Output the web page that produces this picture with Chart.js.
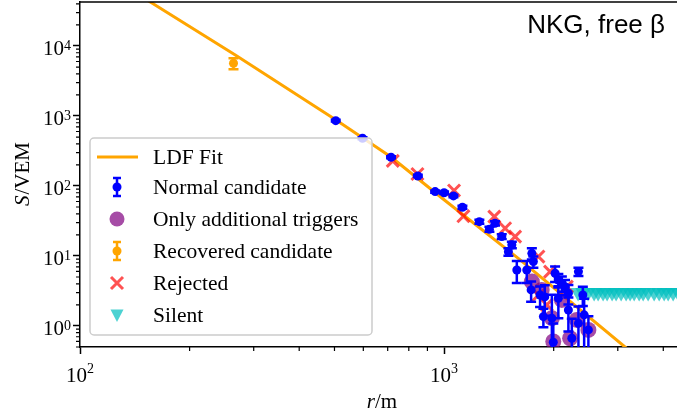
<!DOCTYPE html>
<html>
<head>
<meta charset="utf-8">
<script src="https://cdn.jsdelivr.net/npm/chart.js@4"></script>
<style>
  html, body { margin: 0; padding: 0; background: #fff; overflow: hidden; }
  #wrap { width: 690px; height: 414px; position: relative; }
</style>
</head>
<body>
<div id="wrap"><canvas id="ldfChart"></canvas></div>
<script>
// LDF fit curve
const fitR = [140, 156, 267, 505, 715, 1000, 1618, 3140, 3400];
const fitS = [60000, 42500, 7440, 877, 259, 63.5, 8.77, 0.5, 0.36];

// normal candidates
const normalR = [504, 597, 715, 847, 945, 1000, 1061, 1123, 1250, 1332, 1380, 1440, 1502, 1535, 1584, 1687,
  1742, 1759, 1734, 1835, 1874, 1890, 1977, 1995, 2018, 2060, 2106, 2149, 2195, 2060, 2195, 2243, 2339, 2339,
  2405, 2425, 2491];
const normalS = [857, 480, 257, 139, 83, 80, 72, 49.6, 30.9, 24.1, 29.3, 18.9, 11.5, 14.4, 6.3, 6.3,
  10.9, 8.3, 3.27, 2.77, 1.36, 2.6, 1.29, 0.585, 5.66, 4.54, 4.07, 3.64, 2.93, 2.49, 1.69, 0.667, 5.97, 1.09,
  2.77, 1.44, 0.877];
const normalErr = [25, 15, 8, 5, 3, 3, 3, 2.5, 2, 2, 2, 1.5, 1.4, 1.5, 2.2, 2.2,
  2, 1.5, 1.05, 0.9, 0.4, 1.2, 1.5, 0.5, 1.4, 1.0, 1.0, 0.9, 0.9, 1.2, 0.86, 0.6, 0.8, 0.8,
  0.85, 1.0, 0.5];

// only additional triggers
const extraR = [1742, 1854, 2106, 1977, 1995, 2219, 2315, 2491];
const extraS = [4.3, 3.27, 2.35, 1.29, 0.6, 0.667, 1.22, 0.877];

// recovered candidate
const recoveredR = [264];
const recoveredS = [5660];
const recoveredErr = [1000];

// rejected
const rejectedR = [723, 845, 1065, 1130, 1374, 1471, 1567, 1816, 1955, 1816, 2173, 1915];
const rejectedS = [228, 148, 86, 37, 36.4, 24.9, 18.9, 9.8, 5.97, 2.77, 3.64, 2.0];

// silent stations
const silentR = [2334, 2409, 2486, 2583, 2649, 2734, 2804, 2894, 2968, 3064, 3162, 3243, 3327, 3434, 3522,
  3634, 3775, 3897, 4022, 4125, 4257, 4394, 4536];
const silentS = [3, 3, 3, 3, 3, 3, 3, 3, 3, 3, 3, 3, 3, 3, 3, 3, 3, 3, 3, 3, 3, 3, 3];

const xTicks = [100, 1000];
const xTickExp = ["2", "3"];
const yTicks = [1, 10, 100, 1000, 10000];
const yTickExp = ["0", "1", "2", "3", "4"];

const SERIF = "'Liberation Serif', 'DejaVu Serif', serif";
const BLUE = "#0000ff", ORANGE = "#ffa500";
const PURPLE = "rgba(128,0,128,0.7)", RED = "rgba(255,0,0,0.68)", CYAN = "rgba(0,191,191,0.7)";

const pts = (xs, ys) => xs.map((x, i) => ({ x, y: ys[i] }));

const X_MIN = 100, X_MAX = 4560, Y_MIN = 0.5, Y_MAX = 42500;

function drawErrBars(ctx, chart, xs, ys, errs, color) {
  const xs_ = chart.scales.x, ys_ = chart.scales.y, a = chart.chartArea;
  ctx.save();
  ctx.beginPath();
  ctx.rect(a.left, a.top, a.right - a.left, a.bottom - a.top);
  ctx.clip();
  ctx.strokeStyle = color;
  ctx.lineWidth = 2.5;
  xs.forEach((r, i) => {
    const px = xs_.getPixelForValue(r);
    const top = ys_.getPixelForValue(ys[i] + errs[i]);
    const bot = ys_.getPixelForValue(Math.max(ys[i] - errs[i], 0.05));
    ctx.beginPath();
    ctx.moveTo(px, top); ctx.lineTo(px, bot);
    ctx.moveTo(px - 5, top); ctx.lineTo(px + 5, top);
    ctx.moveTo(px - 5, bot); ctx.lineTo(px + 5, bot);
    ctx.stroke();
  });
  ctx.restore();
}

const decor = {
  id: "decor",
  beforeDatasetDraw(chart, args) {
    const ds = chart.data.datasets[args.index];
    if (ds.label === "Normal candidate") drawErrBars(chart.ctx, chart, normalR, normalS, normalErr, BLUE);
    if (ds.label === "Recovered candidate") drawErrBars(chart.ctx, chart, recoveredR, recoveredS, recoveredErr, ORANGE);
  },
  afterDraw(chart) {
    const ctx = chart.ctx, a = chart.chartArea;
    const sx = chart.scales.x, sy = chart.scales.y;
    ctx.save();
    // minor ticks
    ctx.strokeStyle = "#000";
    ctx.lineWidth = 1.2;
    ctx.beginPath();
    for (let d = -1; d <= 4; d++) {
      for (let k = 2; k <= 9; k++) {
        const v = k * Math.pow(10, d);
        if (v < Y_MIN || v > Y_MAX) continue;
        const py = sy.getPixelForValue(v);
        ctx.moveTo(a.left - 4, py); ctx.lineTo(a.left, py);
      }
    }
    for (let d = 2; d <= 3; d++) {
      for (let k = 2; k <= 9; k++) {
        const v = k * Math.pow(10, d);
        if (v > X_MAX) continue;
        const px = sx.getPixelForValue(v);
        ctx.moveTo(px, a.bottom); ctx.lineTo(px, a.bottom + 4);
      }
    }
    ctx.stroke();
    // top spine
    ctx.lineWidth = 1.5;
    ctx.beginPath();
    ctx.moveTo(a.left, a.top); ctx.lineTo(a.right, a.top);
    ctx.stroke();

    // tick labels 10^n
    ctx.fillStyle = "#000";
    ctx.textBaseline = "alphabetic";
    const big = "21px " + SERIF, small = "14px " + SERIF;
    ctx.font = big;
    const w10 = ctx.measureText("10").width;
    yTicks.forEach((v, i) => {
      const py = sy.getPixelForValue(v);
      ctx.font = small;
      const we = ctx.measureText(yTickExp[i]).width;
      ctx.fillText(yTickExp[i], 71 - we, py + 4);
      ctx.font = big;
      ctx.fillText("10", 71 - we - w10, py + 9);
    });
    xTicks.forEach((v, i) => {
      const px = sx.getPixelForValue(v);
      ctx.font = small;
      const we = ctx.measureText(xTickExp[i]).width;
      const x0 = px - (w10 + we) / 2;
      ctx.fillText(xTickExp[i], x0 + w10, 373);
      ctx.font = big;
      ctx.fillText("10", x0, 382);
    });

    // axis titles
    ctx.font = "italic 21px " + SERIF;
    const wr = ctx.measureText("r").width;
    ctx.font = "21px " + SERIF;
    const wm = ctx.measureText("/m").width;
    let x0 = (a.left + a.right) / 2 - (wr + wm) / 2;
    ctx.font = "italic 21px " + SERIF;
    ctx.fillText("r", x0, 408);
    ctx.font = "21px " + SERIF;
    ctx.fillText("/m", x0 + wr, 408);

    ctx.save();
    ctx.translate(29, (a.top + a.bottom) / 2);
    ctx.rotate(-Math.PI / 2);
    ctx.font = "italic 21px " + SERIF;
    const ws = ctx.measureText("S").width;
    ctx.font = "21px " + SERIF;
    const wv = ctx.measureText("/VEM").width;
    x0 = -(ws + wv) / 2;
    ctx.font = "italic 21px " + SERIF;
    ctx.fillText("S", x0, 0);
    ctx.font = "21px " + SERIF;
    ctx.fillText("/VEM", x0 + ws + 1, 0);
    ctx.restore();

    // annotation
    ctx.font = "26px 'Liberation Sans', Arial, sans-serif";
    ctx.textAlign = "right";
    ctx.fillText("NKG, free β", 665, 33);
    ctx.textAlign = "left";

    // legend
    const lx = 90, ly = 138, lw = 282, lh = 197;
    ctx.beginPath();
    ctx.roundRect(lx, ly, lw, lh, 4);
    ctx.fillStyle = "rgba(255,255,255,0.8)";
    ctx.fill();
    ctx.strokeStyle = "#cccccc";
    ctx.lineWidth = 1.5;
    ctx.stroke();

    const rows = [157, 187, 219, 251, 283, 315];
    const names = ["LDF Fit", "Normal candidate", "Only additional triggers", "Recovered candidate", "Rejected", "Silent"];
    const mx = 117;
    ctx.strokeStyle = ORANGE; ctx.lineWidth = 3;
    ctx.beginPath(); ctx.moveTo(97, rows[0]); ctx.lineTo(138, rows[0]); ctx.stroke();
    [[rows[1], BLUE], [rows[3], ORANGE]].forEach(([y, c]) => {
      ctx.strokeStyle = c; ctx.fillStyle = c; ctx.lineWidth = 2.5;
      ctx.beginPath();
      ctx.moveTo(mx, y - 9); ctx.lineTo(mx, y + 9);
      ctx.moveTo(mx - 4, y - 9); ctx.lineTo(mx + 4, y - 9);
      ctx.moveTo(mx - 4, y + 9); ctx.lineTo(mx + 4, y + 9);
      ctx.stroke();
      ctx.beginPath(); ctx.arc(mx, y, 4.5, 0, Math.PI * 2); ctx.fill();
    });
    ctx.fillStyle = PURPLE;
    ctx.beginPath(); ctx.arc(mx, rows[2], 7.5, 0, Math.PI * 2); ctx.fill();
    ctx.strokeStyle = RED; ctx.lineWidth = 3;
    ctx.beginPath();
    ctx.moveTo(mx - 6, rows[4] - 6); ctx.lineTo(mx + 6, rows[4] + 6);
    ctx.moveTo(mx - 6, rows[4] + 6); ctx.lineTo(mx + 6, rows[4] - 6);
    ctx.stroke();
    ctx.fillStyle = CYAN;
    ctx.beginPath();
    ctx.moveTo(mx - 6.5, rows[5] - 5.5); ctx.lineTo(mx + 6.5, rows[5] - 5.5); ctx.lineTo(mx, rows[5] + 7);
    ctx.closePath(); ctx.fill();

    ctx.fillStyle = "#000";
    ctx.font = "21.5px " + SERIF;
    ctx.textBaseline = "middle";
    names.forEach((n, i) => ctx.fillText(n, 153, rows[i] + 1));
    ctx.restore();
  }
};

new Chart(document.getElementById("ldfChart"), {
  data: {
    datasets: [
      { type: "line", label: "LDF Fit", data: pts(fitR, fitS), borderColor: ORANGE, borderWidth: 3,
        pointRadius: 0, fill: false, tension: 0, order: 6, clip: 0 },
      { type: "scatter", label: "Silent", data: pts(silentR, silentS), backgroundColor: CYAN,
        pointStyle: "triangle", pointRotation: 180, pointRadius: 9, borderWidth: 0, order: 5, clip: 0 },
      { type: "scatter", label: "Rejected", data: pts(rejectedR, rejectedS), borderColor: RED,
        pointStyle: "crossRot", pointRadius: 8.5, borderWidth: 3, order: 4, clip: 0 },
      { type: "scatter", label: "Only additional triggers", data: pts(extraR, extraS), backgroundColor: PURPLE,
        pointRadius: 8, borderWidth: 0, order: 3, clip: 0 },
      { type: "scatter", label: "Recovered candidate", data: pts(recoveredR, recoveredS), backgroundColor: ORANGE,
        pointRadius: 4.5, borderWidth: 0, order: 2, clip: 0 },
      { type: "scatter", label: "Normal candidate", data: pts(normalR, normalS), backgroundColor: BLUE,
        pointRadius: 4.5, borderWidth: 0, order: 1, clip: 0 },
    ],
  },
  options: {
    responsive: true,
    maintainAspectRatio: false,
    animation: false,
    events: [],
    layout: { autoPadding: false, padding: { top: 2, right: 6, bottom: 0, left: 0 } },
    plugins: { legend: { display: false }, tooltip: { enabled: false } },
    scales: {
      x: {
        type: "logarithmic", position: "bottom", min: X_MIN, max: X_MAX,
        afterFit: (s) => { s.height = 67; s.paddingLeft = 0; s.paddingRight = 0; },
        afterBuildTicks: (s) => { s.ticks = xTicks.map((v) => ({ value: v })); },
        ticks: { autoSkip: false, maxRotation: 0, padding: 5, callback: () => "" },
        grid: { display: true, drawOnChartArea: false, drawTicks: true, tickLength: 7, tickWidth: 1.5, tickColor: "#000" },
        border: { display: true, color: "#000", width: 1.5 },
      },
      y: {
        type: "logarithmic", position: "left", min: Y_MIN, max: Y_MAX,
        afterFit: (s) => { s.width = 80; s.paddingTop = 0; s.paddingBottom = 0; },
        afterBuildTicks: (s) => { s.ticks = yTicks.map((v) => ({ value: v })); },
        ticks: { autoSkip: false, padding: 2, callback: () => "" },
        grid: { display: true, drawOnChartArea: false, drawTicks: true, tickLength: 7, tickWidth: 1.5, tickColor: "#000" },
        border: { display: true, color: "#000", width: 1.5 },
      },
    },
  },
  plugins: [decor],
});
</script>
</body>
</html>
